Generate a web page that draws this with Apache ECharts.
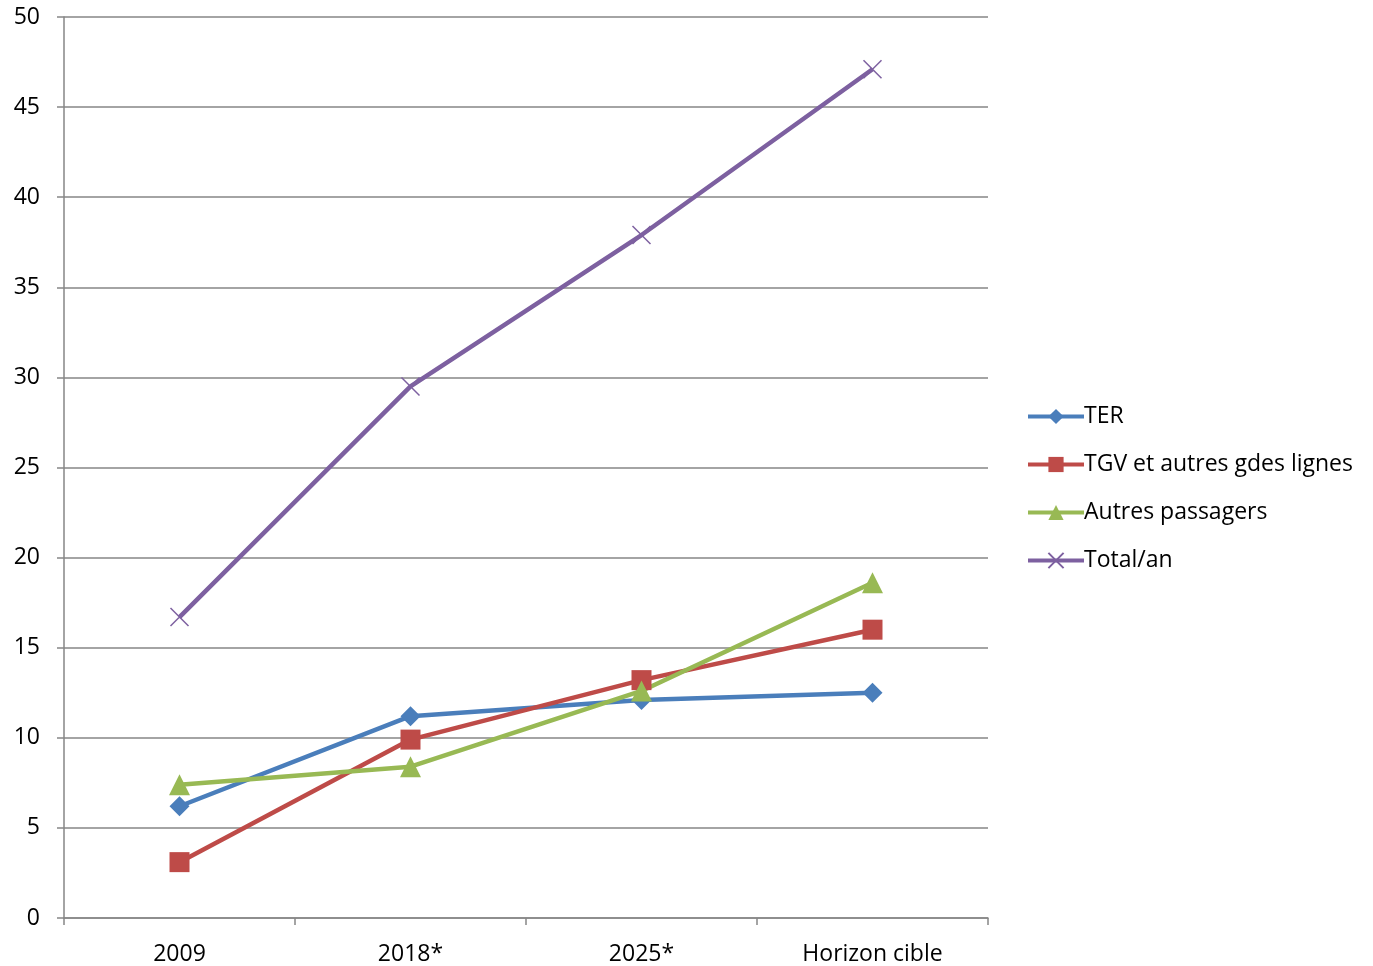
<!DOCTYPE html>
<html lang="fr">
<head>
<meta charset="UTF-8">
<title>Trafic</title>
<script src="https://cdn.jsdelivr.net/npm/echarts@6/dist/echarts.min.js"></script>
<style>
  body { margin: 0; padding: 0; background: #fff; }
  #main { width: 1373px; height: 966px; }
</style>
</head>
<body>
<div id="main"></div>
<script>
  // categories (axe des x)
  var categories = ['2009', '2018*', '2025*', 'Horizon cible'];
  // séries
  var ter = [6.2, 11.2, 12.1, 12.5];
  var tgv = [3.1, 9.9, 13.2, 16.0];
  var autres = [7.4, 8.4, 12.6, 18.6];
  var total = [16.7, 29.5, 37.9, 47.1];

  var gris = '#868686';
  var font = '"Open Sans", "Liberation Sans", sans-serif';

  var chart = echarts.init(document.getElementById('main'));

  chart.setOption({
    animation: false,
    textStyle: { fontFamily: font },
    grid: { left: 64, top: 17, right: 385, bottom: 48 },
    legend: {
      orient: 'vertical',
      left: 1021,
      top: 400,
      itemWidth: 56,
      itemHeight: 19,
      itemGap: 25,
      lineStyle: { width: 4 },
      textStyle: { fontSize: 23, color: '#000', padding: [0, 0, 0, -5], fontFamily: font },
      data: ['TER', 'TGV et autres gdes lignes', 'Autres passagers', 'Total/an']
    },
    xAxis: {
      type: 'category',
      data: categories,
      boundaryGap: true,
      axisLine: { lineStyle: { color: gris, width: 1.5 } },
      axisTick: { show: true, length: 7, lineStyle: { color: gris, width: 1.5 } },
      axisLabel: { fontSize: 23, color: '#000', margin: 25, fontFamily: font }
    },
    yAxis: {
      type: 'value',
      min: 0,
      max: 50,
      interval: 5,
      axisLine: { show: true, lineStyle: { color: gris, width: 1.5 } },
      axisTick: { show: true, length: 7, lineStyle: { color: gris, width: 1.5 } },
      axisLabel: { fontSize: 23, color: '#000', margin: 24, fontFamily: font },
      splitLine: { lineStyle: { color: gris, width: 1.5 } }
    },
    series: [
      {
        name: 'TER', type: 'line', data: ter,
        symbol: 'diamond', symbolSize: 20,
        itemStyle: { color: '#4a7ebb' },
        lineStyle: { color: '#4a7ebb', width: 4.5 }
      },
      {
        name: 'TGV et autres gdes lignes', type: 'line', data: tgv,
        symbol: 'rect', symbolSize: 20,
        itemStyle: { color: '#be4b48' },
        lineStyle: { color: '#be4b48', width: 4.5 }
      },
      {
        name: 'Autres passagers', type: 'line', data: autres,
        symbol: 'triangle', symbolSize: 21,
        itemStyle: { color: '#98b954' },
        lineStyle: { color: '#98b954', width: 4.5 }
      },
      {
        name: 'Total/an', type: 'line', data: total,
        symbol: 'path://M0,0L10,10M10,0L0,10', symbolSize: 18,
        itemStyle: { color: 'none', borderColor: '#7d60a0', borderWidth: 1.5 },
        lineStyle: { color: '#7d60a0', width: 4.5 }
      }
    ]
  });
</script>
</body>
</html>
